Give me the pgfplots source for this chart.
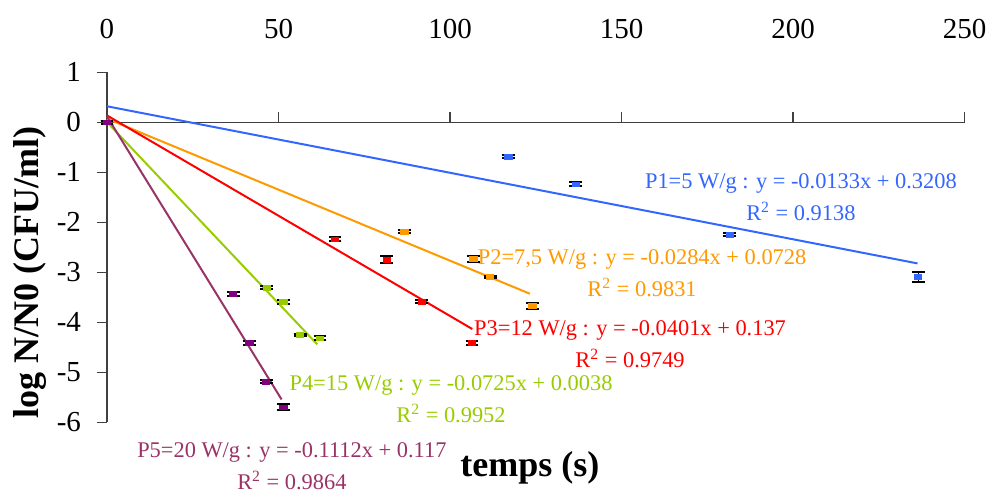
\documentclass[border=0pt]{standalone}
\usepackage{fontspec}
\setmainfont{Liberation Serif}
\usepackage{pgfplots}
\pgfplotsset{compat=1.18}
\definecolor{cblue}{RGB}{51,102,255}
\definecolor{corange}{RGB}{255,153,0}
\definecolor{cred}{RGB}{255,0,0}
\definecolor{cgreen}{RGB}{153,204,0}
\definecolor{cplum}{RGB}{153,51,102}
\definecolor{cpurple}{RGB}{128,0,128}
\pgfplotsset{
  pts/.style={only marks, mark=square*, mark size=1.2pt,
    mark options={xscale=1.5, draw=#1, fill=#1},
    error bars/.cd, y dir=both, y explicit,
    error bar style={black, line width=0.6pt},
    error mark options={black, line width=1pt, mark size=3.2pt, rotate=90}},
  fit/.style={no marks, line width=1pt, color=#1},
}
\begin{document}
\begin{tikzpicture}
\useasboundingbox (-53.5pt,-36.35pt) rectangle (444pt,211.15pt);
\begin{axis}[
  at={(0,0)}, anchor=south west,
  scale only axis, width=428.75pt, height=175pt,
  xmin=0, xmax=250, ymin=-6, ymax=1,
  axis x line=middle, axis y line=left,
  hide obscured x ticks=false, hide obscured y ticks=false,
  axis line style={-, line width=0.75pt, black!75},
  xtick={0,50,...,250}, ytick={-6,-5,...,1},
  tick align=center, major tick length=5pt,
  major x tick style={yshift=2.5pt, line width=0.75pt, black!75},
  major y tick style={xshift=-2.5pt, line width=0.75pt, black!75},
  /pgf/number format/assume math mode=true,
  ticklabel style={font=\fontsize{14.5}{17}\selectfont},
  xticklabel style={anchor=center, yshift=49.2pt},
  yticklabel style={anchor=east, xshift=-7pt},
  clip=false,
]
% regression lines
\addplot[fit=cblue] coordinates {(0,0.3208) (236.3,-2.822)};
\addplot[fit=corange] coordinates {(0,0.0728) (123.3,-3.429)};
\addplot[fit=cred] coordinates {(0,0.137) (106.5,-4.134)};
\addplot[fit=cgreen] coordinates {(0,0.0038) (61.3,-4.441)};
\addplot[fit=cplum] coordinates {(0,0.117) (50.9,-5.543)};
% data with error bars
\addplot[pts=cblue] coordinates {(0,0) +- (0,0.03) (117.0,-0.69) +- (0,0.03) (136.7,-1.24) +- (0,0.04) (181.6,-2.25) +- (0,0.03) (236.5,-3.09) +- (0,0.10)};
\addplot[pts=corange] coordinates {(0,0) +- (0,0.03) (86.7,-2.19) +- (0,0.03) (106.8,-2.73) +- (0,0.06) (111.7,-3.09) +- (0,0.02) (124.0,-3.67) +- (0,0.06)};
\addplot[pts=cred] coordinates {(0,0) +- (0,0.03) (66.5,-2.34) +- (0,0.04) (81.5,-2.75) +- (0,0.07) (91.7,-3.59) +- (0,0.03) (106.4,-4.41) +- (0,0.04)};
\addplot[pts=cgreen] coordinates {(0,0) +- (0,0.03) (46.6,-3.31) +- (0,0.03) (51.4,-3.59) +- (0,0.04) (56.3,-4.25) +- (0,0.02) (62.1,-4.32) +- (0,0.04)};
\addplot[pts=cpurple] coordinates {(0,0) +- (0,0.03) (36.8,-3.43) +- (0,0.04) (41.5,-4.41) +- (0,0.04) (46.4,-5.19) +- (0,0.03) (51.4,-5.70) +- (0,0.06)};
% trendline labels
\node[cblue, align=center, font=\fontsize{11.2}{16}\selectfont] at (axis cs:202.3,-1.50) {P1=5 W/g : y = -0.0133x + 0.3208\\R\textsuperscript{2} = 0.9138};
\node[corange, align=center, font=\fontsize{11.2}{16}\selectfont] at (axis cs:156.0,-3.02) {P2=7,5 W/g : y = -0.0284x + 0.0728\\R\textsuperscript{2} = 0.9831};
\node[cred, align=center, font=\fontsize{11.2}{16}\selectfont] at (axis cs:152.5,-4.43) {P3=12 W/g : y = -0.0401x + 0.137\\R\textsuperscript{2} = 0.9749};
\node[cgreen, align=center, font=\fontsize{11.2}{16}\selectfont] at (axis cs:100.3,-5.54) {P4=15 W/g : y = -0.0725x + 0.0038\\R\textsuperscript{2} = 0.9952};
\node[cplum, align=center, font=\fontsize{11.2}{16}\selectfont] at (axis cs:53.9,-6.87) {P5=20 W/g : y = -0.1112x + 0.117\\R\textsuperscript{2} = 0.9864};
% axis titles
\node[font=\fontsize{18}{21}\selectfont\bfseries] at (axis cs:123.3,-6.91) {temps (s)};
\node[font=\fontsize{18}{21}\selectfont\bfseries, rotate=90] at (axis cs:-22.4,-3.0) {log N/N0 (CFU/ml)};
\end{axis}
\end{tikzpicture}
\end{document}
